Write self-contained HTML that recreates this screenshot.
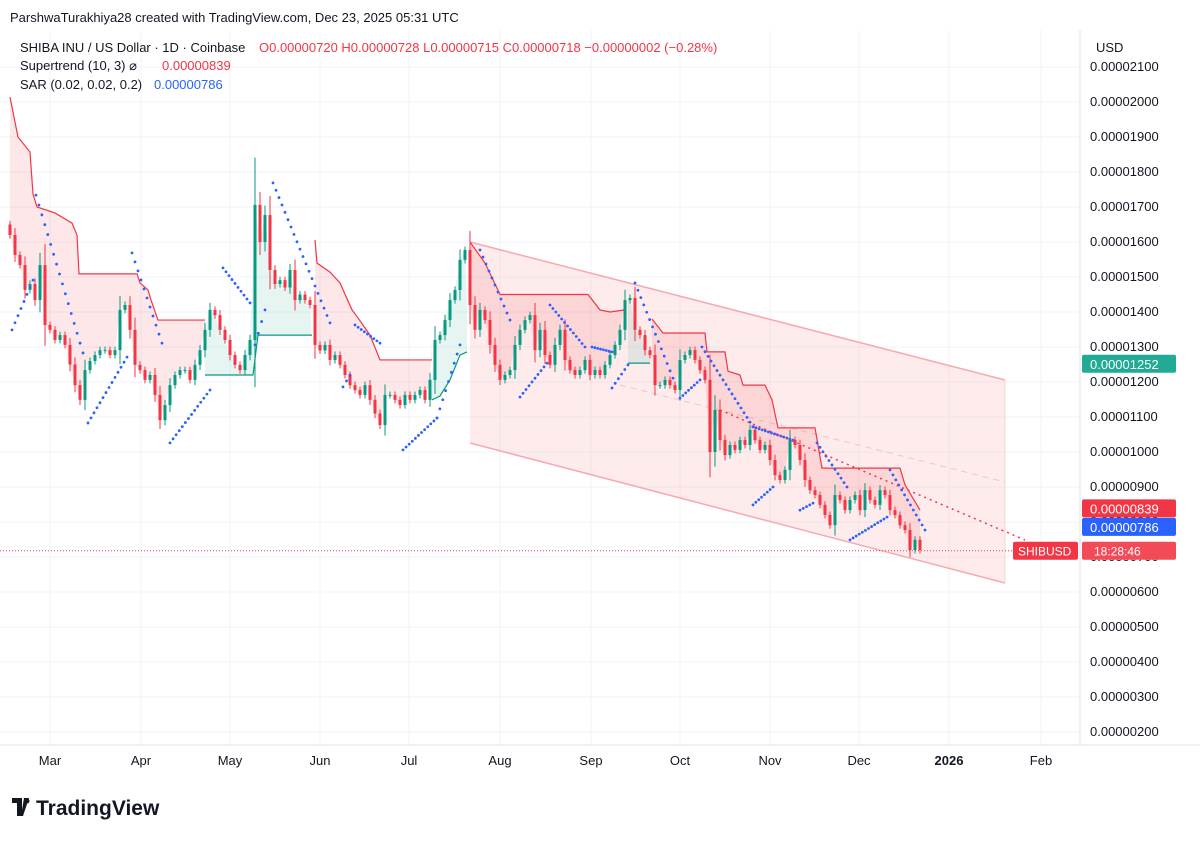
<!DOCTYPE html>
<html><head><meta charset="utf-8"><style>
body{margin:0;background:#fff;width:1200px;height:841px;overflow:hidden;font-family:"Liberation Sans",sans-serif;}
svg text{font-family:"Liberation Sans",sans-serif;}
</style></head><body>
<svg id="c" width="1200" height="841" xmlns="http://www.w3.org/2000/svg"></svg>
<script>
const closes=[1620,1563,1534,1463,1480,1434,1534,1363,1349,1320,1334,1306,1250,1191,1149,1234,1260,1277,1291,1291,1277,1291,1406,1420,1349,1249,1234,1206,1220,1163,1091,1134,1191,1220,1234,1234,1206,1249,1291,1349,1406,1391,1349,1320,1277,1249,1234,1277,1320,1706,1600,1677,1520,1480,1491,1470,1520,1434,1450,1434,1420,1306,1290,1306,1263,1277,1249,1220,1191,1177,1163,1191,1149,1110,1077,1163,1163,1149,1134,1163,1149,1163,1177,1149,1206,1320,1334,1377,1434,1463,1549,1577,1420,1349,1406,1377,1306,1249,1206,1220,1234,1306,1349,1377,1391,1291,1349,1277,1249,1306,1349,1263,1234,1220,1234,1263,1220,1234,1220,1249,1277,1306,1349,1434,1440,1349,1334,1291,1277,1191,1191,1206,1191,1177,1263,1277,1291,1263,1234,1206,1000,1120,1034,991,1020,1006,1034,1020,1063,1034,1006,1020,977,934,920,949,1034,1020,977,920,891,877,849,820,791,877,863,834,863,877,834,891,863,849,891,877,834,820,791,777,720,749,720];
const firstOpen=1650;
const stRed=[[[0,2014],[1.6,1900],[4,1857],[4.6,1737],[5.4,1700],[9,1683],[12.4,1654],[13.4,1620],[13.8,1509],[25.4,1509],[26,1483],[27.6,1463],[28.2,1434],[29.6,1377],[39,1377]],
[[61,1606],[61.4,1540],[64,1514],[66,1483],[68.4,1406],[69.6,1383],[72,1334],[74,1263],[84.4,1263]],
[[92,1600],[95,1540],[98,1450],[115.6,1450],[118,1406],[120,1400],[123,1406]],
[[128.4,1380],[130.6,1340],[139,1340],[139.4,1286],[143,1286],[143.6,1231],[146,1220],[146.6,1191],[151,1191],[152.4,1149],[153.6,1069],[161,1069],[162.4,954],[178,954],[179,906],[182,834]]];
const stGreen=[[[39,1220],[48.6,1220],[49.6,1334],[60.4,1334]],[[84.4,1149],[86,1160],[88,1206],[90,1277],[91.4,1286]],[[123.6,1254],[128,1254]]];
const sarSegs=[[[0.4,1349],[4.6,1491]],[[5.2,1734],[14.6,1283]],[[15.6,1083],[23.4,1271]],[[24.4,1569],[30.4,1311]],[[32,1026],[40,1177]],[[42.6,1526],[48,1426]],[[49,1306],[51,1406]],[[52.6,1769],[64,1369]],[[66.6,1186],[68,1220]],[[69,1363],[74,1311]],[[78.6,1006],[85.4,1097],[90,1306]],[[94,1577],[100,1377]],[[102,1157],[107.4,1254]],[[108,1420],[115,1300]],[[116.4,1300],[120.4,1286]],[[120.4,1183],[123.6,1249]],[[125,1483],[132.6,1211]],[[134,1154],[138,1206]],[[138.4,1300],[148.6,1072],[156.6,1034]],[[148.6,849],[152.6,900]],[[158,834],[160.6,854]],[[161.4,1026],[167.4,900]],[[168,749],[175.4,814]],[[176,949],[183,777]]];
const yTicks=[2100,2000,1900,1800,1700,1600,1500,1400,1300,1200,1100,1000,900,800,700,600,500,400,300,200];
const months=["Mar","Apr","May","Jun","Jul","Aug","Sep","Oct","Nov","Dec","2026","Feb"];
const monthX=[50,141,230,320,409,500,591,680,770,859,949,1041];

const S=document.getElementById('c');const NS='http://www.w3.org/2000/svg';
function el(t,a,p){const e=document.createElementNS(NS,t);for(const k in a)e.setAttribute(k,a[k]);(p||S).appendChild(e);return e;}
const X=i=>10+i*5;
const Y=p=>102+(2000-p)*0.35;
const fmt=v=>'0.0000'+String(Math.round(v)).padStart(4,'0');
const g=el('g',{});
yTicks.forEach(t=>{el('line',{x1:0,x2:1080,y1:Y(t),y2:Y(t),stroke:'#f0f3fa'},g);});
monthX.forEach(x=>{el('line',{x1:x,x2:x,y1:30,y2:745,stroke:'#f0f3fa'},g);});
const ch=el('polygon',{points:'470,242 1005,380 1005,583 470,443',fill:'rgba(242,54,69,0.1)',stroke:'none'});

el('line',{x1:470,y1:242,x2:1005,y2:380,stroke:'#f7a9b3','stroke-width':1.5});
el('line',{x1:470,y1:443,x2:1005,y2:583,stroke:'#f7a9b3','stroke-width':1.5});
el('line',{x1:1005,y1:380,x2:1005,y2:583,stroke:'#fbd0d5','stroke-width':1});
el('line',{x1:620,y1:385,x2:1005,y2:482,stroke:'#f7c0c7','stroke-width':1,'stroke-dasharray':'6,5'});
function closeAt(i){const k=Math.max(0,Math.min(closes.length-1,Math.round(i)));return closes[k];}
function stDraw(segs,col,fill,name){segs.forEach(seg=>{
 let pts=seg.map(p=>X(p[0])+','+Y(p[1]));
 let back=[];for(let i=Math.ceil(seg[seg.length-1][0]);i>=Math.floor(seg[0][0]);i--){let ii=Math.max(seg[0][0],Math.min(seg[seg.length-1][0],i));back.push(X(ii)+','+Y(closeAt(i)));}
 const f=el('polygon',{points:pts.concat(back).join(' '),fill:fill});
 
 const l=el('polyline',{points:pts.join(' '),fill:'none',stroke:col,'stroke-width':1.2});
 
});}
stDraw(stRed,'#f23645','rgba(242,54,69,0.12)','supertrend-down');
stDraw(stGreen,'#089981','rgba(8,153,129,0.1)','supertrend-up');
closes.forEach((c,i)=>{const o=i?closes[i-1]:firstOpen;const w=Math.max(10,Math.abs(c-o)*0.35);
 const hi=Math.max(o,c)+w,lo=Math.min(o,c)-w;const col=c>=o?'#089981':'#f23645';
 const cg=el('g',{});
 el('line',{x1:X(i),x2:X(i),y1:Y(hi),y2:Y(lo),stroke:col,'stroke-width':1},cg);
 el('rect',{x:X(i)-1.5,y:Math.min(Y(o),Y(c)),width:3,height:Math.max(1,Math.abs(Y(o)-Y(c))),fill:col},cg);});
sarSegs.forEach(seg=>{for(let s=0;s<seg.length-1;s++){const a=seg[s],b=seg[s+1];const n=Math.max(1,Math.round((b[0]-a[0])/0.6));
 for(let k=0;k<=n;k++){const t=k/n;const d=el('circle',{cx:X(a[0]+(b[0]-a[0])*t),cy:Y(a[1]+(b[1]-a[1])*t),r:1.4,fill:'#2962ff'});
 }}});
const tl=el('line',{x1:720,y1:410,x2:1025,y2:540,stroke:'#f23645','stroke-width':1.5,'stroke-dasharray':'2,4'});

el('line',{x1:0,x2:1080,y1:Y(718),y2:Y(718),stroke:'#f23645','stroke-width':1,'stroke-dasharray':'1,2'});
yTicks.forEach(t=>{const tx=el('text',{x:1090,y:Y(t)+4,'font-size':13,fill:'#131722'});tx.textContent=fmt(t);
 });
el('rect',{x:1083,y:30,width:117,height:26,fill:'#fff'});
const usd=el('text',{x:1096,y:52,'font-size':13,fill:'#131722'});usd.textContent='USD';
function tag(y,col,txt,name){const r=el('rect',{x:1082,y:y-9,width:94,height:18,rx:2,fill:col});
 const t=el('text',{x:1090,y:y+5,'font-size':13,fill:'#fff'});t.textContent=txt;
 }
tag(Y(1252),'#22ab94','0.00001252','upper-channel-tag');
tag(Y(839),'#f23645','0.00000839','supertrend-tag');
tag(Y(786),'#2962ff','0.00000786','sar-tag');
const sr=el('rect',{x:1013,y:Y(718)-9,width:65,height:18,rx:2,fill:'#f23645'});
let t1=el('text',{x:1018,y:Y(718)+5,'font-size':12,fill:'#fff'});t1.textContent='SHIBUSD';
el('rect',{x:1082,y:Y(718)-9,width:94,height:18,fill:'#fff'});
el('rect',{x:1082,y:Y(718)-9,width:94,height:18,rx:2,fill:'#f23645','fill-opacity':0.9});
let t2=el('text',{x:1094,y:Y(718)+5,'font-size':12,fill:'#fff'});t2.textContent='18:28:46';
el('line',{x1:0,x2:1200,y1:745,y2:745,stroke:'#e0e3eb'});
el('line',{x1:1080,x2:1080,y1:30,y2:745,stroke:'#e0e3eb'});
months.forEach((m,i)=>{const t=el('text',{x:monthX[i],y:765,'font-size':13,fill:'#131722','text-anchor':'middle','font-weight':m==='2026'?'bold':'normal'});t.textContent=m;
 });
function txt(x,y,s,c,sz,name,w){const t=el('text',{x:x,y:y,'font-size':sz,fill:c,'font-weight':w||'normal'});t.textContent=s;return t;}
txt(10,22,'ParshwaTurakhiya28 created with TradingView.com, Dec 23, 2025 05:31 UTC','#131722',13,'attribution');
txt(20,52,'SHIBA INU / US Dollar · 1D · Coinbase','#131722',13,'symbol-title');
txt(259,52,'O0.00000720 H0.00000728 L0.00000715 C0.00000718 −0.00000002 (−0.28%)','#f23645',13,'ohlc-values');
txt(20,70,'Supertrend (10, 3)  ⌀','#131722',13,'supertrend-legend');
txt(162,70,'0.00000839','#f23645',13,'supertrend-value');
txt(20,89,'SAR (0.02, 0.02, 0.2)','#131722',13,'sar-legend');
txt(154,89,'0.00000786','#2962ff',13,'sar-value');
const lg=el('g',{});
el('path',{d:'M12 798h10v18h-5v-13h-5z M24 798h5l-6 18h-2z',fill:'#131722'},lg);
el('circle',{cx:27,cy:801,r:2.5,fill:'#131722'},lg);
txt(36,815,'TradingView','#131722',21,'tradingview-wordmark','bold');
</script></body></html>
